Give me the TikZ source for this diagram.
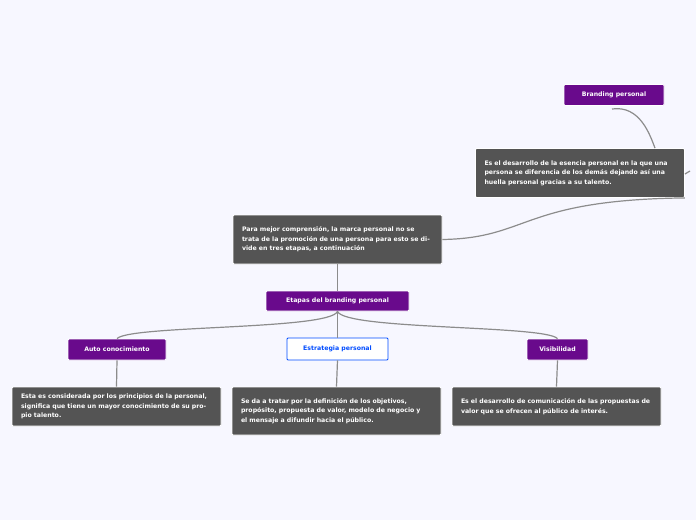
\documentclass[tikz,border=0pt]{standalone}
\usepackage{fontspec}
\setmainfont{DejaVu Sans}
\begin{document}
\begin{tikzpicture}[x=1pt,y=-1pt,
  every node/.style={font=\bfseries\fontsize{6.2}{9.6}\selectfont},
  topic/.style={draw=white,line width=0.8pt,fill=topc,text=white,inner sep=0pt,rounded corners=1pt},
  note/.style={draw=white,line width=0.8pt,fill=black!67,text=white,align=left,inner xsep=9pt,inner ysep=3pt,text width=191pt,rounded corners=1pt},
  sel/.style={draw=blue!70!cyan,line width=0.8pt,fill=white,text=blue!70!cyan,inner sep=0pt,rounded corners=1pt},
  link/.style={draw=black!45,line width=1.2pt}]
\definecolor{topc}{HTML}{690A8C}
\fill[blue!3] (0,0) rectangle (696,520);
\useasboundingbox (0,0) rectangle (696,520);
\node[topic,minimum width=100,minimum height=21] (bp) at (614,95) {Branding personal};
\node[note,minimum height=49] (es) at (580,173) {\raggedright\hyphenpenalty=10000 Es el desarrollo de la esencia personal en la que una persona se diferencia de los demás dejando así una huella personal gracias a su talento.};
\node[note,minimum height=49] (pm) at (337.5,239.5) {\raggedright\hyphenpenalty=10000 Para mejor comprensión, la marca personal no se trata de la promoción de una persona para esto se divide en tres etapas, a continuación};
\node[topic,minimum width=143,minimum height=20] (et) at (337.5,301) {Etapas del branding personal};
\node[topic,minimum width=98,minimum height=21] (ac) at (117,349.5) {Auto conocimiento};
\node[sel,minimum width=101,minimum height=22] (ep) at (337.5,349) {Estrategia personal};
\node[topic,minimum width=61,minimum height=21] (vi) at (557.5,349.5) {Visibilidad};
\node[note,minimum height=39] (n1) at (116.5,406.5) {\raggedright\hyphenpenalty=10000 Esta es considerada por los principios de la personal, significa que tiene un mayor conocimiento de su propio talento.};
\node[note,minimum height=48] (n2) at (336.5,411) {\raggedright\hyphenpenalty=10000 Se da a tratar por la definición de los objetivos, propósito, propuesta de valor, modelo de negocio y el mensaje a difundir hacia el público.};
\node[note,minimum height=39] (n3) at (556.5,406.5) {\raggedright\hyphenpenalty=10000 Es el desarrollo de comunicación de las propuestas de valor que se ofrecen al público de interés.};
\coordinate (bpt) at (612,109);
\coordinate (ee) at (690,171);
\draw[link] (bpt) .. controls (640,105) and (650,135) .. (es.north -| 655,0);
\draw[link] (es.east |- 0,174) -- (ee);
\draw[link] (pm.east) .. controls (530,238) and (520,200) .. (es.south east);
\draw[link] (pm.south) -- (et.north);
\draw[link] (et.south) .. controls (330,330) and (130,325) .. (ac.north);
\draw[link] (et.south) -- (ep.north);
\draw[link] (et.south) .. controls (345,330) and (545,325) .. (vi.north);
\draw[link] (ac.south) -- (n1.north);
\draw[link] (ep.south) -- (n2.north);
\draw[link] (vi.south) -- (n3.north);
\end{tikzpicture}
\end{document}
